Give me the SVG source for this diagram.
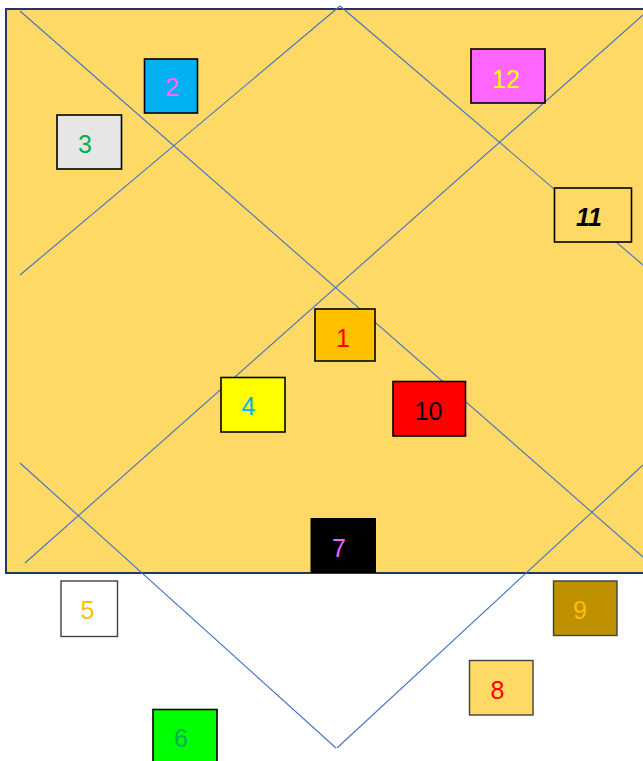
<svg xmlns="http://www.w3.org/2000/svg" width="643" height="761" viewBox="0 0 643 761">
<style>
.ln{stroke:#4472C4;stroke-width:1.1;fill:none}
.bx{stroke:#000;stroke-width:1.6}
.gx{stroke:#404040;stroke-width:1.4}
.t{font-family:"Liberation Sans",Arial,sans-serif;font-size:25px;text-anchor:middle}
</style>
<rect x="0" y="0" width="643" height="761" fill="#fff"/>
<rect id="board" x="6" y="9" width="650" height="564" fill="#FFD966" stroke="#203864" stroke-width="2"/>
<g id="connectors">
<line class="ln" x1="20" y1="11" x2="643" y2="557"/>
<line class="ln" x1="20" y1="275" x2="340" y2="6"/>
<line class="ln" x1="340" y1="6" x2="643" y2="265"/>
<line class="ln" x1="643" y1="15" x2="25" y2="563"/>
<line class="ln" x1="20" y1="463" x2="336" y2="748"/>
<line class="ln" x1="643" y1="465" x2="337" y2="748"/>
</g>
<g id="n2"><rect class="bx" x="144.5" y="59" width="53" height="54" fill="#00B0F0"/><text class="t" x="172" y="96" fill="#FF66FF">2</text></g>
<g id="n12"><rect class="bx" x="471" y="49" width="74" height="54" fill="#FF66FF"/><text class="t" x="506" y="88" fill="#FFFF00">12</text></g>
<g id="n3"><rect class="bx" x="57" y="115" width="64.5" height="54" fill="#E7E6E6"/><text class="t" x="85" y="153" fill="#00B050">3</text></g>
<g id="n11"><rect class="bx" x="554.5" y="188" width="77" height="54" fill="#FFD966"/><text class="t" x="589" y="226" fill="#000" font-weight="bold" font-style="italic" font-size="24">11</text></g>
<g id="n1"><rect class="bx" x="315" y="309" width="60" height="52" fill="#FFC000"/><text class="t" x="343" y="346.5" fill="#FF0000">1</text></g>
<g id="n4"><rect class="bx" x="221" y="377.5" width="64" height="54.5" fill="#FFFF00"/><text class="t" x="248.5" y="415" fill="#00B0F0">4</text></g>
<g id="n10"><rect class="bx" x="393" y="381.5" width="72.5" height="54.5" fill="#FF0000"/><text class="t" x="428.5" y="420" fill="#000">10</text></g>
<g id="n7"><rect x="310.5" y="518" width="65.5" height="55" fill="#000"/><text class="t" x="339" y="557" fill="#EE66FF">7</text></g>
<g id="n5"><rect class="gx" x="61" y="581" width="56.5" height="55.5" fill="#fff"/><text class="t" x="87.5" y="619" fill="#FFC000">5</text></g>
<g id="n9"><rect class="gx" x="553.5" y="581" width="63.5" height="54.5" fill="#BF9000"/><text class="t" x="580" y="619" fill="#FFC000">9</text></g>
<g id="n8"><rect class="gx" x="469.5" y="660.5" width="63.5" height="54.5" fill="#FFD966"/><text class="t" x="497.5" y="699" fill="#FF0000">8</text></g>
<g id="n6"><rect class="bx" x="153" y="709.5" width="64" height="60" fill="#00FF00"/><text class="t" x="181" y="746.5" fill="#00B050">6</text></g>
</svg>
